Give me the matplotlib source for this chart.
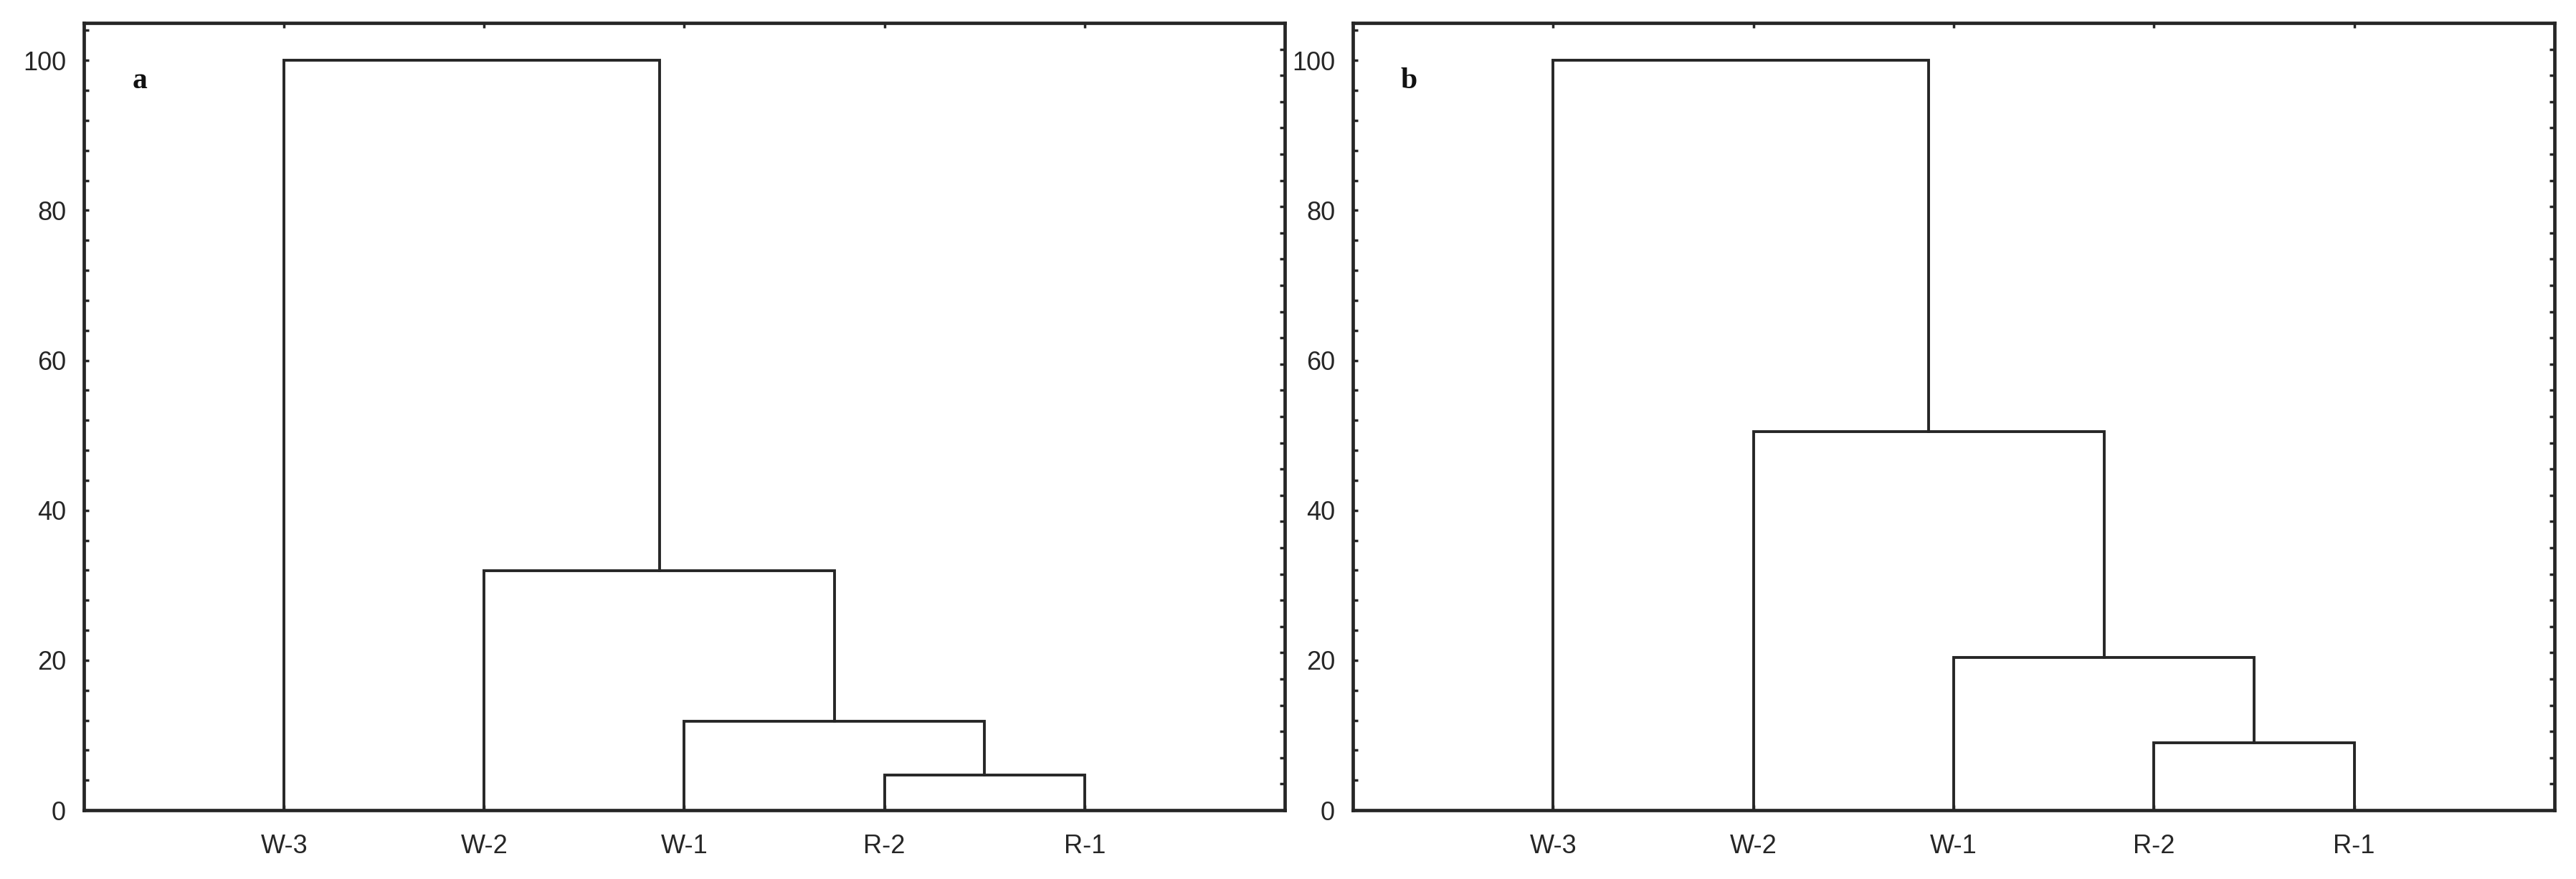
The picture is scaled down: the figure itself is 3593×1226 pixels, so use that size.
import matplotlib
matplotlib.use("Agg")
import matplotlib.pyplot as plt
from matplotlib.ticker import MultipleLocator, FixedLocator, NullFormatter

plt.rcParams['font.family'] = ['Liberation Sans', 'DejaVu Sans']

# ---- data ----
leaf_labels = ["W-3", "W-2", "W-1", "R-2", "R-1"]
# merges as pairs of node ids (0..4 leaves, new nodes numbered from 5)
merge_pairs = [(3, 4), (2, 5), (1, 6), (0, 7)]
heights_a = [4.7, 11.9, 31.9, 100.0]
heights_b = [9.0, 20.4, 50.5, 100.0]
panel_names = ["a", "b"]
y_ticks = [0, 20, 40, 60, 80, 100]

LC = '#262626'

fig = plt.figure(figsize=(35.93, 12.26), dpi=100)
axes_rects = [
    [117/3593, 1 - 1130/1226, (1792-117)/3593, (1130-32)/1226],
    [1887/3593, 1 - 1130/1226, (3563-1887)/3593, (1130-32)/1226],
]


def draw_dendro(ax, pairs, heights):
    n = len(leaf_labels)
    xpos = {i: i + 1.0 for i in range(n)}
    ypos = {i: 0.0 for i in range(n)}
    for k, ((l, r), h) in enumerate(zip(pairs, heights)):
        xl, xr = xpos[l], xpos[r]
        yl, yr = ypos[l], ypos[r]
        ax.plot([xl, xl, xr, xr], [yl, h, h, yr], color=LC, lw=2.8,
                solid_joinstyle='miter', clip_on=False, zorder=3)
        node = n + k
        xpos[node] = (xl + xr) / 2.0
        ypos[node] = h


for rect, heights, name in zip(axes_rects, [heights_a, heights_b], panel_names):
    ax = fig.add_axes(rect)
    draw_dendro(ax, merge_pairs, heights)
    ax.set_xlim(0, 6)
    ax.set_ylim(0, 105)
    ax.set_xticks(range(1, len(leaf_labels) + 1))
    ax.set_xticklabels(leaf_labels)
    ax.set_yticks(y_ticks)
    ax.yaxis.set_minor_locator(MultipleLocator(4))
    ax.tick_params(axis='x', which='both', direction='in', length=5, width=2.5,
                   top=True, bottom=True, labelsize=26, pad=24, colors=LC)
    ax.tick_params(axis='y', which='major', direction='in', length=5, width=2.5,
                   left=True, right=False, labelsize=26, pad=18, colors=LC)
    ax.tick_params(axis='y', which='minor', direction='in', length=5, width=2.5,
                   left=True, right=False, colors=LC)
    for s in ax.spines.values():
        s.set_linewidth(3.4)
        s.set_color(LC)
    ax.text(0.28, 96.3, name, fontsize=30, fontweight='bold',
            family=['Liberation Serif', 'DejaVu Serif'], ha='center',
            va='baseline', color='#111111')
    # right-hand ticks (30 equal divisions, unlabeled)
    axr = ax.twinx()
    axr.set_ylim(0, 30)
    axr.yaxis.set_major_locator(FixedLocator(list(range(1, 30))))
    axr.yaxis.set_major_formatter(NullFormatter())
    axr.tick_params(axis='y', direction='in', length=5, width=2.5, colors=LC)
    for s in axr.spines.values():
        s.set_visible(False)

fig.savefig("out.png", dpi=100, facecolor='white')
